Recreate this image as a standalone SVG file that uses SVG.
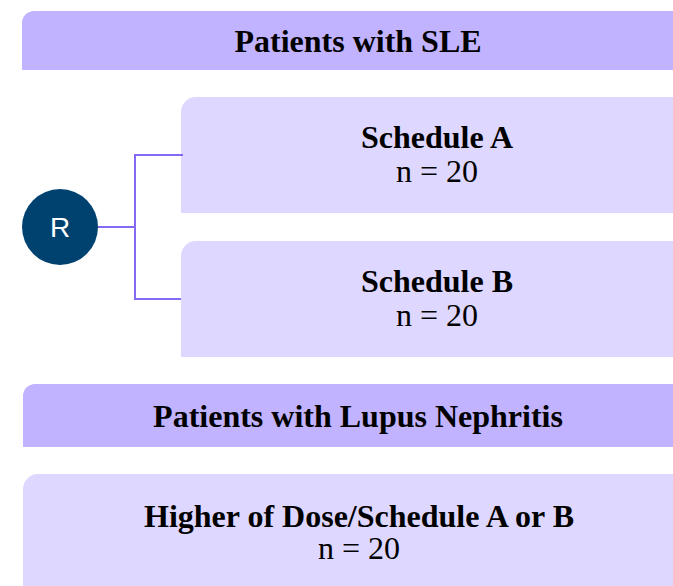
<svg xmlns="http://www.w3.org/2000/svg" width="673" height="586" viewBox="0 0 673 586">
<style>
.hdr{fill:#C1B3FF}
.box{fill:#DED7FF}
.t{font-family:"Liberation Serif","Times New Roman",serif;text-anchor:middle;fill:#000}
.b{font-weight:bold;font-size:32px}
.r{font-size:32px}
.conn{fill:none;stroke:#8569F2;stroke-width:2}
</style>
<rect width="673" height="586" fill="#fff"/>
<g id="header-sle">
<path class="hdr" d="M22,70 V23 A12,12 0 0 1 34,11 H694 V70 Z"/>
<text class="t b" x="358" y="52">Patients with SLE</text>
</g>
<g id="schedule-a">
<path class="box" d="M181,213 V112 A15,15 0 0 1 196,97 H694 V213 Z"/>
<text class="t b" x="437" y="148">Schedule A</text>
<text class="t r" x="437" y="182">n = 20</text>
</g>
<g id="schedule-b">
<path class="box" d="M181,357 V256 A15,15 0 0 1 196,241 H694 V357 Z"/>
<text class="t b" x="437" y="292">Schedule B</text>
<text class="t r" x="437" y="326">n = 20</text>
</g>
<g id="r-node">
<circle cx="60" cy="227" r="38" fill="#00426F"/>
<text x="60" y="237" font-family="Liberation Sans,Arial,sans-serif" font-size="28" fill="#fff" text-anchor="middle">R</text>
</g>
<g id="header-ln">
<path class="hdr" d="M23,447 V396 A12,12 0 0 1 35,384 H694 V447 Z"/>
<text class="t b" x="358" y="427">Patients with Lupus Nephritis</text>
</g>
<g id="higher-dose">
<path class="box" d="M23,600 V489 A15,15 0 0 1 38,474 H694 V600 Z"/>
<text class="t b" x="359" y="527">Higher of Dose/Schedule A or B</text>
<text class="t r" x="359" y="559">n = 20</text>
</g>
<g id="connectors">
<path class="conn" d="M98,227 H135"/>
<path class="conn" d="M183,155 H135 V299 H181"/>
</g>
</svg>
